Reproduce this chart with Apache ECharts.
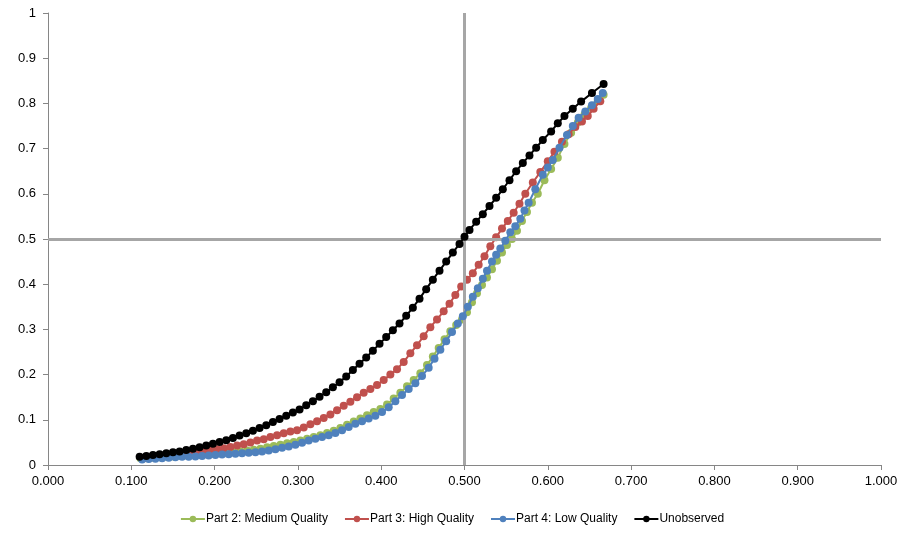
<!DOCTYPE html>
<html><head><meta charset="utf-8">
<script src="https://cdn.jsdelivr.net/npm/echarts@6/dist/echarts.min.js"></script>
<style>html,body{margin:0;padding:0;background:#fff}#c{width:904px;height:536px}</style>
</head><body><div id="c"></div>
<script>
const seriesNames = ["Part 2: Medium Quality", "Part 3: High Quality", "Part 4: Low Quality", "Unobserved"];
const seriesColors = ["#9BBB59", "#C0504D", "#4F81BD", "#000000"];
const refX = 0.5, refY = 0.5;
const xTicks = [0, 0.1, 0.2, 0.3, 0.4, 0.5, 0.6, 0.7, 0.8, 0.9, 1];
const yTicks = [0, 0.1, 0.2, 0.3, 0.4, 0.5, 0.6, 0.7, 0.8, 0.9, 1];

const medium = [[0.111,0.015],[0.119,0.015],[0.127,0.016],[0.135,0.017],[0.143,0.018],[0.151,0.019],[0.159,0.020],[0.167,0.021],[0.175,0.022],[0.183,0.023],[0.191,0.024],[0.199,0.025],[0.207,0.026],[0.215,0.027],[0.223,0.028],[0.231,0.030],[0.239,0.032],[0.247,0.034],[0.255,0.036],[0.263,0.039],[0.271,0.042],[0.279,0.045],[0.287,0.048],[0.295,0.051],[0.303,0.054],[0.311,0.058],[0.319,0.062],[0.327,0.066],[0.335,0.071],[0.343,0.076],[0.351,0.082],[0.359,0.089],[0.367,0.096],[0.375,0.103],[0.383,0.110],[0.391,0.117],[0.399,0.124],[0.407,0.134],[0.415,0.147],[0.423,0.160],[0.431,0.174],[0.439,0.188],[0.447,0.203],[0.455,0.221],[0.462,0.240],[0.469,0.259],[0.476,0.278],[0.483,0.296],[0.490,0.310],[0.497,0.322],[0.503,0.338],[0.509,0.360],[0.515,0.380],[0.521,0.398],[0.527,0.415],[0.533,0.433],[0.539,0.452],[0.545,0.470],[0.551,0.487],[0.557,0.500],[0.563,0.518],[0.569,0.540],[0.575,0.560],[0.581,0.580],[0.588,0.600],[0.596,0.630],[0.604,0.655],[0.612,0.680],[0.620,0.710],[0.628,0.735],[0.636,0.758],[0.644,0.775],[0.652,0.790],[0.660,0.805],[0.667,0.819]];

const high = [[0.115,0.015],[0.123,0.017],[0.131,0.019],[0.139,0.021],[0.147,0.022],[0.155,0.024],[0.163,0.026],[0.171,0.027],[0.179,0.029],[0.187,0.031],[0.195,0.033],[0.203,0.035],[0.211,0.037],[0.219,0.040],[0.227,0.043],[0.235,0.046],[0.243,0.050],[0.251,0.054],[0.259,0.057],[0.267,0.062],[0.275,0.066],[0.283,0.070],[0.291,0.074],[0.299,0.077],[0.307,0.083],[0.315,0.090],[0.323,0.097],[0.331,0.104],[0.339,0.112],[0.347,0.121],[0.355,0.131],[0.363,0.140],[0.371,0.150],[0.379,0.160],[0.387,0.168],[0.395,0.177],[0.403,0.188],[0.411,0.200],[0.419,0.212],[0.427,0.228],[0.435,0.247],[0.443,0.265],[0.451,0.285],[0.459,0.305],[0.467,0.322],[0.475,0.340],[0.482,0.357],[0.489,0.376],[0.496,0.395],[0.503,0.410],[0.510,0.424],[0.517,0.443],[0.524,0.462],[0.531,0.484],[0.538,0.504],[0.545,0.523],[0.552,0.540],[0.559,0.558],[0.566,0.578],[0.573,0.600],[0.582,0.625],[0.591,0.648],[0.600,0.672],[0.608,0.693],[0.617,0.715],[0.625,0.732],[0.633,0.748],[0.641,0.760],[0.648,0.772],[0.655,0.788],[0.663,0.805]];

const low = [[0.113,0.012],[0.121,0.013],[0.129,0.014],[0.137,0.015],[0.145,0.016],[0.153,0.017],[0.161,0.018],[0.169,0.018],[0.177,0.019],[0.185,0.020],[0.193,0.021],[0.201,0.022],[0.209,0.023],[0.217,0.024],[0.225,0.025],[0.233,0.026],[0.241,0.027],[0.249,0.028],[0.257,0.030],[0.265,0.032],[0.273,0.035],[0.281,0.038],[0.289,0.041],[0.297,0.045],[0.305,0.049],[0.313,0.054],[0.321,0.058],[0.329,0.062],[0.337,0.066],[0.345,0.071],[0.353,0.077],[0.361,0.084],[0.369,0.091],[0.377,0.097],[0.385,0.103],[0.393,0.109],[0.401,0.117],[0.409,0.128],[0.417,0.141],[0.425,0.155],[0.433,0.168],[0.441,0.181],[0.449,0.197],[0.457,0.215],[0.464,0.235],[0.471,0.255],[0.478,0.274],[0.485,0.294],[0.492,0.313],[0.498,0.329],[0.504,0.350],[0.510,0.372],[0.516,0.391],[0.522,0.412],[0.527,0.430],[0.533,0.450],[0.538,0.465],[0.543,0.479],[0.549,0.496],[0.555,0.515],[0.561,0.528],[0.567,0.545],[0.572,0.563],[0.577,0.580],[0.585,0.610],[0.594,0.642],[0.600,0.658],[0.606,0.675],[0.614,0.702],[0.623,0.730],[0.630,0.750],[0.637,0.768],[0.645,0.782],[0.653,0.796],[0.660,0.810],[0.666,0.823]];

const unobserved = [[0.110,0.018],[0.118,0.020],[0.126,0.022],[0.134,0.024],[0.142,0.026],[0.150,0.028],[0.158,0.030],[0.166,0.033],[0.174,0.036],[0.182,0.039],[0.190,0.043],[0.198,0.047],[0.206,0.051],[0.214,0.055],[0.222,0.060],[0.230,0.065],[0.238,0.070],[0.246,0.076],[0.254,0.082],[0.262,0.088],[0.270,0.095],[0.278,0.102],[0.286,0.109],[0.294,0.116],[0.302,0.123],[0.310,0.132],[0.318,0.141],[0.326,0.151],[0.334,0.161],[0.342,0.172],[0.350,0.183],[0.358,0.196],[0.366,0.210],[0.374,0.224],[0.382,0.238],[0.390,0.253],[0.398,0.268],[0.406,0.283],[0.414,0.298],[0.422,0.313],[0.430,0.330],[0.438,0.348],[0.446,0.368],[0.454,0.389],[0.462,0.410],[0.470,0.430],[0.478,0.450],[0.486,0.470],[0.494,0.489],[0.500,0.505],[0.506,0.520],[0.514,0.538],[0.522,0.555],[0.530,0.573],[0.538,0.591],[0.546,0.610],[0.554,0.630],[0.562,0.650],[0.570,0.668],[0.578,0.685],[0.586,0.702],[0.594,0.719],[0.604,0.738],[0.612,0.756],[0.620,0.772],[0.630,0.788],[0.640,0.804],[0.653,0.823],[0.667,0.843]];

const allData = [medium, high, low, unobserved];
const FONT = "Liberation Sans";

const chart = echarts.init(document.getElementById('c'), null, {renderer: 'canvas'});
const series = allData.map((d, i) => ({
  name: seriesNames[i],
  type: 'line',
  data: d,
  color: seriesColors[i],
  symbol: 'circle',
  symbolSize: 8,
  showSymbol: true,
  lineStyle: {width: 2, color: seriesColors[i]},
  itemStyle: {color: seriesColors[i], borderWidth: 0},
  animation: false,
  z: 3 + i
}));
series.unshift({
  type: 'line',
  data: [],
  silent: true,
  animation: false,
  z: 2,
  markLine: {
    silent: true,
    symbol: ['none', 'none'],
    label: {show: false},
    lineStyle: {color: '#A6A6A6', width: 3, type: 'solid'},
    animation: false,
    data: [{xAxis: refX}, {yAxis: refY}]
  }
});

chart.setOption({
  animation: false,
  backgroundColor: '#fff',
  grid: {left: 48, right: 23, top: 13, bottom: 71, containLabel: false},
  legend: {
    data: seriesNames,
    bottom: 6,
    left: 'center',
    itemWidth: 24,
    itemHeight: 8,
    itemGap: 16,
    itemStyle: {borderWidth: 0},
    lineStyle: {width: 2},
    textStyle: {fontFamily: FONT, fontSize: 12, color: '#000', padding: [0, 0, 0, -4]},
  },
  xAxis: {
    type: 'value', min: xTicks[0], max: xTicks[xTicks.length - 1], interval: 0.1,
    axisLine: {show: true, lineStyle: {color: '#868686', width: 1}},
    axisTick: {show: true, length: 5, lineStyle: {color: '#868686'}},
    splitLine: {show: false},
    axisLabel: {fontFamily: FONT, fontSize: 13, color: '#000', margin: 10, formatter: v => v.toFixed(3)}
  },
  yAxis: {
    type: 'value', min: yTicks[0], max: yTicks[yTicks.length - 1], interval: 0.1,
    axisLine: {show: true, lineStyle: {color: '#868686', width: 1}},
    axisTick: {show: true, length: 5, lineStyle: {color: '#868686'}},
    splitLine: {show: false},
    axisLabel: {fontFamily: FONT, fontSize: 13, color: '#000', margin: 12, formatter: v => String(+v.toFixed(1))}
  },
  series: series
});
</script></body></html>
